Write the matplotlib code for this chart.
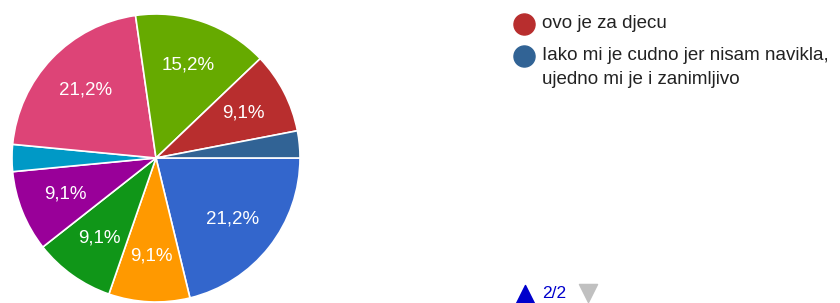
import matplotlib.pyplot as plt

counts = [7, 3, 3, 3, 1, 7, 5, 3, 1]
colors = ['#3366cc', '#ff9900', '#109618', '#990099', '#0099c6',
          '#dd4477', '#66aa00', '#b82e2e', '#316395']
legend_labels = ['ovo je za djecu',
                 'Iako mi je cudno jer nisam navikla,\nujedno mi je i zanimljivo']
legend_colors = ['#b82e2e', '#316395']
page_text = '2/2'

plt.rcParams['font.family'] = ['Liberation Sans', 'DejaVu Sans']

W, H = 840, 303
fig = plt.figure(figsize=(W / 100, H / 100), dpi=100)

cx, cy, r = 156, 158, 144
ax = fig.add_axes([(cx - r) / W, (H - cy - r) / H, 2 * r / W, 2 * r / H])


def fmt(p):
    if p < 5:
        return ''
    return ('%.1f%%' % p).replace('.', ',')


wedges, texts, autotexts = ax.pie(
    counts, colors=colors, startangle=0, counterclock=False,
    autopct=fmt, pctdistance=0.68,
    wedgeprops=dict(edgecolor='white', linewidth=1.2),
    textprops=dict(color='white', fontsize=13.5))
ax.set_xlim(-1, 1)
ax.set_ylim(-1, 1)
ax.set_aspect('equal')

# legend and page navigation drawn in pixel coords
ov = fig.add_axes([0, 0, 1, 1])
ov.set_xlim(0, W)
ov.set_ylim(H, 0)
ov.axis('off')

ys = [24, 56]
for y, lab, c in zip(ys, legend_labels, legend_colors):
    ov.scatter([524], [y], s=230, color=c, zorder=3)
    ov.text(542, y - 9, lab, fontsize=13.5, color='#222222', va='top',
            ha='left', linespacing=1.55)

ov.scatter([525], [294], marker='^', s=170, color='#0000cc')
ov.text(542, 294, page_text, fontsize=12.5, color='#0000cc', va='center', ha='left')
ov.scatter([588], [293], marker='v', s=170, color='#c0c0c0')

fig.savefig('out.png', dpi=100)
